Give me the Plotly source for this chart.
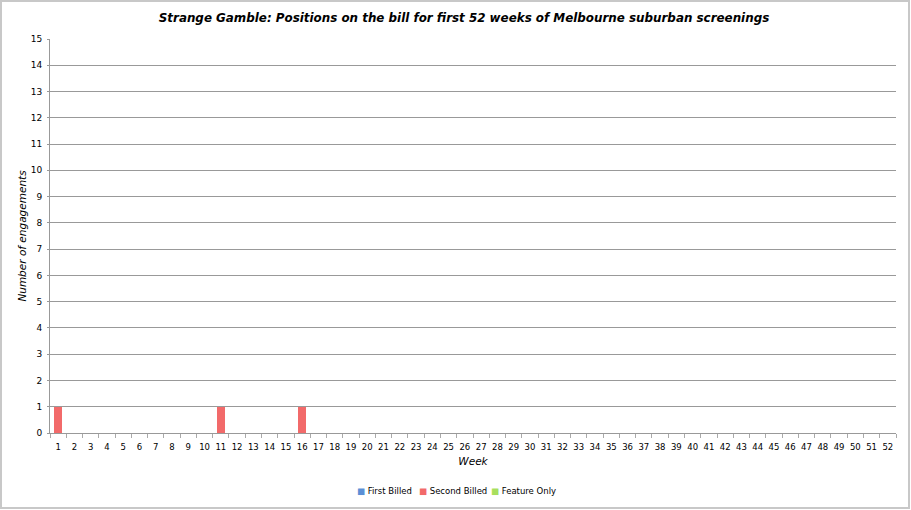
import plotly.graph_objects as go

weeks = [str(i) for i in range(1, 53)]
first_billed = [0] * 52
second_billed = [1, 0, 0, 0, 0, 0, 0, 0, 0, 0,
                 1, 0, 0, 0, 0, 1, 0, 0, 0, 0,
                 0, 0, 0, 0, 0, 0, 0, 0, 0, 0,
                 0, 0, 0, 0, 0, 0, 0, 0, 0, 0,
                 0, 0, 0, 0, 0, 0, 0, 0, 0, 0,
                 0, 0]
feature_only = [0] * 52
y_ticks = list(range(0, 16))
series_names = ["First Billed", "Second Billed", "Feature Only"]
series_colors = ["#5b8fd6", "#f26a6a", "#a8df5e"]

L, R, T, B = 50, 15, 39, 77
W, H = 911, 510
pw, ph = W - L - R, H - T - B

fig = go.Figure()
for name, vals, col in zip(series_names, [first_billed, second_billed, feature_only], series_colors):
    fig.add_trace(go.Bar(x=weeks, y=vals, name=name, showlegend=False,
                         marker=dict(color=col, line=dict(width=0))))

# figure frame
fig.add_shape(type="rect", xref="paper", yref="paper",
              x0=(1 - L) / pw, x1=(W - 2 - L) / pw,
              y0=(H - B - (H - 2)) / ph, y1=(H - B - 1) / ph,
              line=dict(color="#c8c8c8", width=2), layer="below")

# legend (as text entries)
leg_x = [355, 417, 489]
leg_y = (H - B - 491) / ph
for name, col, lx in zip(series_names, series_colors, leg_x):
    fig.add_annotation(xref="paper", yref="paper", x=(lx - L) / pw, y=leg_y,
                       xanchor="left", yanchor="middle", showarrow=False,
                       text=f"<span style='color:{col}'>■</span> {name}",
                       font=dict(size=8.5, color="#000"))

fig.update_layout(
    width=W, height=H,
    margin=dict(l=L, r=R, t=T, b=B, autoexpand=False),
    barmode="stack", bargap=0.53,
    plot_bgcolor="white", paper_bgcolor="white",
    font=dict(family="DejaVu Sans", size=9, color="#000"),
    title=dict(text="<b><i>Strange Gamble: Positions on the bill for first 52 weeks of Melbourne suburban screenings</i></b>",
               x=(464 - L) / pw, xanchor="center", xref="paper", y=1 - 18 / H, yanchor="middle",
               font=dict(family="DejaVu Sans", size=11.9, color="#000")),
    xaxis=dict(type="category", tickmode="array", tickvals=weeks, ticktext=weeks,
               tickson="boundaries", ticks="outside", ticklen=4, tickcolor="#aaa",
               tickangle=0, automargin=False, ticklabelstandoff=6,
               showgrid=False, showline=True, linecolor="#999", linewidth=1,
               tickfont=dict(size=8.5),
               title=dict(text="<i>Week</i>", font=dict(size=10.5), standoff=6)),
    yaxis=dict(range=[0, 15], tickvals=y_ticks, showgrid=True, gridcolor="#999",
               gridwidth=1, showline=True, linecolor="#999", linewidth=1,
               ticks="outside", ticklen=2, tickcolor="#999", tickfont=dict(size=9),
               ticklabelstandoff=3,
               zeroline=False, automargin=False,
               title=dict(text="<i>Number of engagements</i>", font=dict(size=10.5), standoff=2)),
    showlegend=False,
)

fig.write_html("out.html", config={"displayModeBar": False},
               post_script="document.body.style.margin='0';document.body.style.overflow='hidden';")
